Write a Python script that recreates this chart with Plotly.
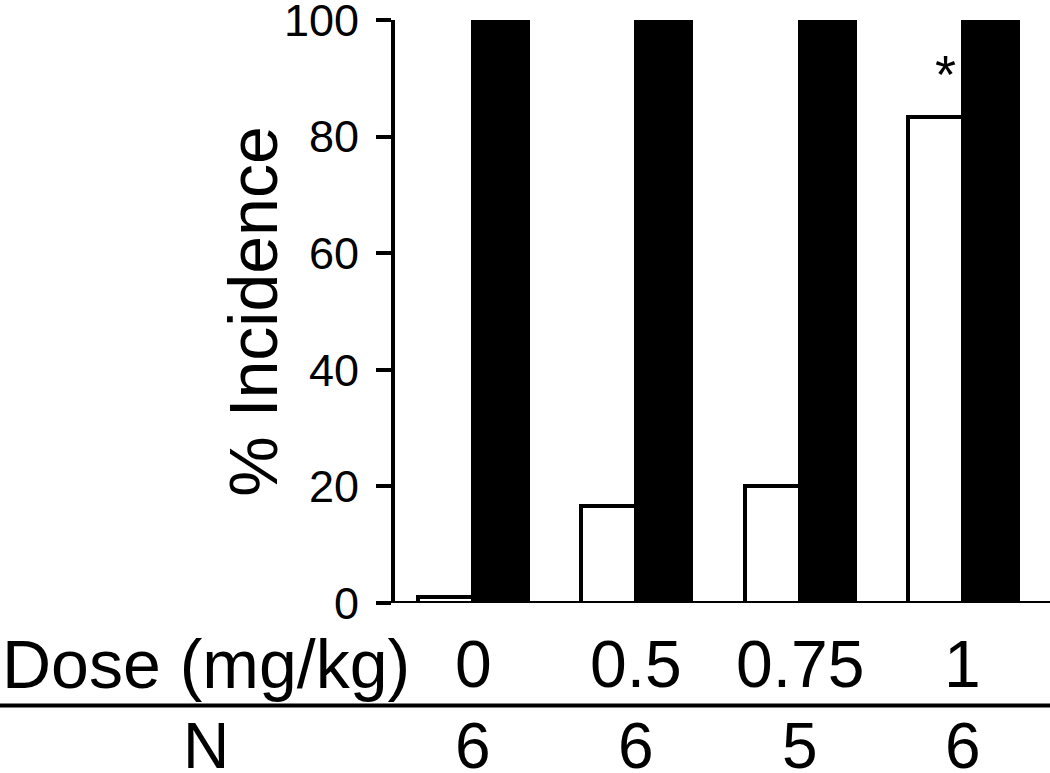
import plotly.graph_objects as go

# data
doses = ["0", "0.5", "0.75", "1"]
n_animals = ["6", "6", "5", "6"]
incidence_open = [1, 16.7, 20, 83.3]     # white bars
incidence_filled = [100, 100, 100, 100]  # black bars
y_ticks = [0, 20, 40, 60, 80, 100]

FONT = "Liberation Sans, Arial, Helvetica, sans-serif"
xpos = list(range(len(doses)))
bw = 0.337

fig = go.Figure()

fig.add_trace(go.Bar(
    x=xpos, y=incidence_open, width=bw, offset=-bw,
    marker=dict(color="white", line=dict(color="black", width=4)),
    showlegend=False,
))
fig.add_trace(go.Bar(
    x=xpos, y=incidence_filled, width=bw, offset=0,
    marker=dict(color="black", line=dict(color="black", width=4)),
    showlegend=False,
))

annotations = []
# dose row and N row under the axis
for i, (d, n) in enumerate(zip(doses, n_animals)):
    annotations.append(dict(x=xpos[i], y=-0.105, xref="x", yref="paper", text=d,
                            showarrow=False, xanchor="center", yanchor="middle",
                            font=dict(size=66, color="black", family=FONT)))
    annotations.append(dict(x=xpos[i], y=-0.245, xref="x", yref="paper", text=n,
                            showarrow=False, xanchor="center", yanchor="middle",
                            height=56, valign="middle",
                            font=dict(size=64, color="black", family=FONT)))

annotations.append(dict(x=-0.603, y=-0.105, xref="paper", yref="paper", text="Dose (mg/kg)",
                        showarrow=False, xanchor="left", yanchor="middle",
                        font=dict(size=68, color="black", family=FONT)))
annotations.append(dict(x=-0.2885, y=-0.245, xref="paper", yref="paper", text="N",
                        showarrow=False, xanchor="center", yanchor="middle",
                        height=56, valign="middle",
                        font=dict(size=64, color="black", family=FONT)))

# y title
annotations.append(dict(x=-0.218, y=0.5, xref="paper", yref="paper", text="% Incidence",
                        textangle=-90, showarrow=False, xanchor="center", yanchor="middle",
                        font=dict(size=68, color="black", family=FONT)))

# significance marker over the last open bar
annotations.append(dict(x=xpos[3] - 0.104, y=incidence_open[3] + 2, xref="x", yref="y", text="*",
                        showarrow=False, xanchor="center", yanchor="bottom",
                        font=dict(size=54, color="black", family=FONT)))

shapes = [
    # x axis baseline, running left past the y axis
    dict(type="line", xref="paper", yref="y", x0=-0.026, x1=1, y0=0, y1=0,
         line=dict(color="black", width=4)),
    # rule between dose row and N row
    dict(type="line", xref="paper", yref="paper", x0=-0.61, x1=1, y0=-0.1757, y1=-0.1757,
         line=dict(color="black", width=4)),
]

fig.update_layout(
    width=1050, height=773,
    margin=dict(l=395, r=0, t=20, b=170, autoexpand=False),
    paper_bgcolor="white", plot_bgcolor="white",
    font=dict(family=FONT, color="black"),
    annotations=annotations, shapes=shapes,
    bargap=0,
)

fig.update_xaxes(range=[-0.478, 3.533], showticklabels=False, showgrid=False,
                 zeroline=False, showline=False, ticks="", automargin=False)
fig.update_yaxes(range=[0, 100], tickvals=y_ticks, ticks="outside", ticklen=15,
                 tickwidth=4, tickcolor="black", showline=True, linewidth=4,
                 linecolor="black", showgrid=False, zeroline=False, automargin=False,
                 tickfont=dict(size=45, color="black", family=FONT),
                 ticklabelstandoff=8, ticklabeloverflow="allow")

# drop the default 8px page margin so the figure sits at the window's corner
fig.write_html("out.html", config={"displayModeBar": False},
               post_script="document.body.style.margin='0';")
